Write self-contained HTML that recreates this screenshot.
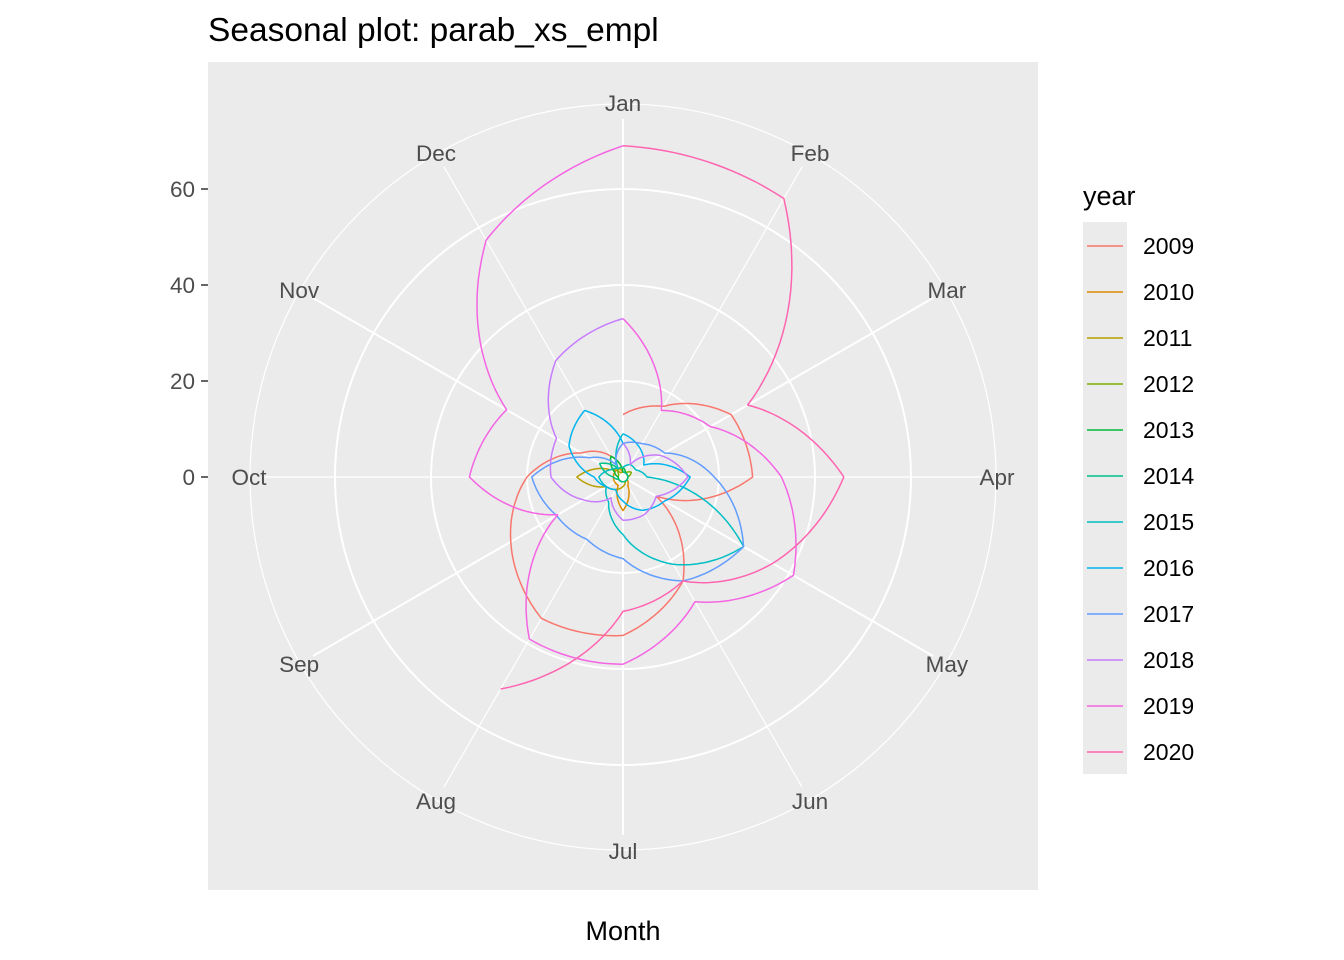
<!DOCTYPE html>
<html><head><meta charset="utf-8"><style>
body{margin:0;background:#fff;}
svg{display:block;font-family:"Liberation Sans",sans-serif;}
</style></head><body>
<svg id="s" width="1344" height="960" xmlns="http://www.w3.org/2000/svg">
<rect x="0" y="0" width="1344" height="960" fill="#fff"/>
<rect x="208" y="62" width="830" height="828" fill="#EBEBEB"/>
<g id="grid" stroke="#fff" fill="none"></g>
<g id="lines" fill="none" stroke-width="1.5" stroke-linejoin="round"></g>
<g id="mlab" font-size="22.5" fill="#4D4D4D" text-anchor="middle"></g>
<g font-size="22.5" fill="#4D4D4D" text-anchor="end">
<text x="195" y="197">60</text><text x="195" y="293">40</text><text x="195" y="389">20</text><text x="195" y="485">0</text>
</g>
<g stroke="#333" stroke-width="1.5"><line x1="201" x2="208" y1="189" y2="189"/><line x1="201" x2="208" y1="285" y2="285"/><line x1="201" x2="208" y1="381" y2="381"/><line x1="201" x2="208" y1="477" y2="477"/></g>
<text x="208" y="41" font-size="33.5" fill="#000">Seasonal plot: parab_xs_empl</text>
<text x="623" y="940" font-size="27" fill="#000" text-anchor="middle">Month</text>
<text x="1083" y="205" font-size="27" fill="#000">year</text>
<rect x="1083" y="222" width="44" height="552" fill="#EBEBEB"/>
<g id="leg"></g>
</svg>
<script>
var cx=623,cy=477,k=4.8,NS="http://www.w3.org/2000/svg";
function el(t,a,p){var e=document.createElementNS(NS,t);for(var i in a)e.setAttribute(i,a[i]);p.appendChild(e);return e;}
var g=document.getElementById('grid');
[[96,2],[192,2],[288,2],[373,1.2]].forEach(function(c){el('circle',{cx:cx,cy:cy,r:c[0],'stroke-width':c[1]},g);});
var mn=["Jan","Feb","Mar","Apr","May","Jun","Jul","Aug","Sep","Oct","Nov","Dec"];
var ml=document.getElementById('mlab');
for(var i=0;i<12;i++){var a=i*Math.PI/6;var sx=Math.sin(a),sy=-Math.cos(a);
el('line',{x1:cx,y1:cy,x2:cx+358*sx,y2:cy+358*sy,'stroke-width':(i%2?1.2:2)},g);
var t=el('text',{x:cx+374*sx,y:cy+374*sy+8},ml);t.textContent=mn[i];}
var cols=["#F8766D","#DE8C00","#B79F00","#7CAE00","#00BA38","#00C08B","#00BFC4","#00B4F0","#619CFF","#C77CFF","#F564E3","#FF64B0"];
var D=[
[13,17,26,27,8,25,33,34,27,20,10,5],
[1,1,1,1,1,2,7,2,2,2,2,2],
[1,1,1,1,1,1,2,3,4,9.6,3,1],
[1,1,2,1,1,1,1,1,1,1,1,2],
[2,1,1,1,1,1,1,1,1,1,2,5],
[1,1,1,1,1,1,1,1,1,2,5.6,2],
[2,3,3,5,29,21,12,6,4,5,3,2],
[9,7,5,14,10,8,5,3,4,6,13,16],
[7,8,10,19,29,25,17,15,16,19,8,3],
[7,3,9,13.5,8,9,9,5,9.5,15,16,28],
[33,16,21,33,41,30,39,39,15.7,32,28,57],
[69,67,30,46,36,25,28,51]];
var L=document.getElementById('lines');
D.forEach(function(v,y){var pts=v.slice();if(y<D.length-1)pts.push(D[y+1][0]);
var d="";for(var j=0;j<pts.length-1;j++){for(var s=0;s<=20;s++){if(j>0&&s==0)continue;var f=s/20;var th=(j+f)*Math.PI/6;var r=(pts[j]+(pts[j+1]-pts[j])*f)*k;
d+=(d?"L":"M")+(cx+r*Math.sin(th)).toFixed(1)+","+(cy-r*Math.cos(th)).toFixed(1);}}
el('path',{d:d,stroke:cols[y]},L);});
var lg=document.getElementById('leg');
for(var y=0;y<12;y++){var yy=246+46*y;el('line',{x1:1087,x2:1123,y1:yy,y2:yy,stroke:cols[y],'stroke-width':1.5},lg);
var t=el('text',{x:1143,y:yy+8,'font-size':23,fill:'#000'},lg);t.textContent=2009+y;}
</script>
</body></html>
